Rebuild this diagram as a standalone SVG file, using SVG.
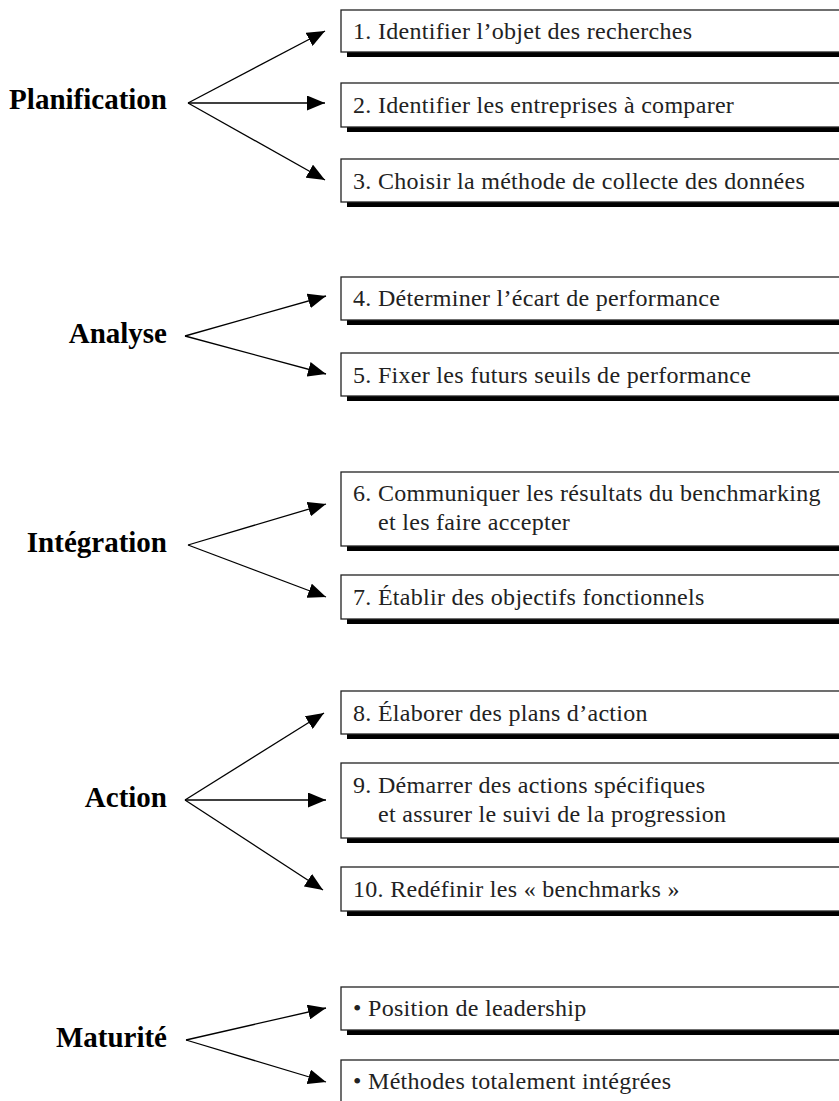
<svg xmlns="http://www.w3.org/2000/svg" width="839" height="1101" viewBox="0 0 839 1101">
<style>
.bg{fill:#fff}
.box{fill:#fff;stroke:#222;stroke-width:1.3}
.sh{fill:#000}
.t{font-family:"Liberation Serif",serif;font-size:24px;letter-spacing:0.3px;fill:#222}
.lbl{font-family:"Liberation Serif",serif;font-size:29px;font-weight:bold;fill:#000;text-anchor:end}
.ar{stroke:#000;stroke-width:1.3;fill:none;marker-end:url(#ah)}
</style>
<defs>
<marker id="ah" viewBox="0 0 18 15" refX="18" refY="7.5" markerWidth="18" markerHeight="15" markerUnits="userSpaceOnUse" orient="auto">
<path d="M0,0 L18,7.5 L0,15 z" fill="#000"/>
</marker>
</defs>
<rect class="bg" width="839" height="1101"/>
<g id="connectors">
<path class="ar" d="M188,103 L325,31"/>
<path class="ar" d="M188,103 L325,103"/>
<path class="ar" d="M188,103 L325,180"/>
<path class="ar" d="M185,336 L326,296"/>
<path class="ar" d="M185,336 L326,374"/>
<path class="ar" d="M188,545 L326,504"/>
<path class="ar" d="M188,545 L326,597"/>
<path class="ar" d="M185,800 L324,713"/>
<path class="ar" d="M185,800 L326,800"/>
<path class="ar" d="M185,800 L323,890"/>
<path class="ar" d="M186,1040 L326,1008"/>
<path class="ar" d="M186,1040 L326,1082"/>
</g>
<g id="label-planification"><text class="lbl" x="167" y="109">Planification</text></g>
<g id="label-analyse"><text class="lbl" x="167" y="343">Analyse</text></g>
<g id="label-integration"><text class="lbl" x="167" y="552">Intégration</text></g>
<g id="label-action"><text class="lbl" x="167" y="807">Action</text></g>
<g id="label-maturite"><text class="lbl" x="167" y="1047">Maturité</text></g>
<g id="box1"><rect class="sh" x="347" y="52" width="500" height="5"/><rect class="box" x="341" y="10" width="520" height="42"/><text class="t" x="353" y="39">1. Identifier l’objet des recherches</text></g>
<g id="box2"><rect class="sh" x="347" y="127" width="500" height="5"/><rect class="box" x="341" y="83" width="520" height="44"/><text class="t" x="353" y="113">2. Identifier les entreprises à comparer</text></g>
<g id="box3"><rect class="sh" x="347" y="202" width="500" height="5"/><rect class="box" x="341" y="159" width="520" height="43"/><text class="t" x="353" y="189">3. Choisir la méthode de collecte des données</text></g>
<g id="box4"><rect class="sh" x="347" y="320" width="500" height="5"/><rect class="box" x="341" y="277" width="520" height="43"/><text class="t" x="353" y="306">4. Déterminer l’écart de performance</text></g>
<g id="box5"><rect class="sh" x="347" y="396" width="500" height="5"/><rect class="box" x="341" y="353" width="520" height="43"/><text class="t" x="353" y="383">5. Fixer les futurs seuils de performance</text></g>
<g id="box6"><rect class="sh" x="347" y="546" width="500" height="5"/><rect class="box" x="341" y="472" width="520" height="74"/><text class="t" x="353" y="501">6. Communiquer les résultats du benchmarking</text><text class="t" x="378" y="530">et les faire accepter</text></g>
<g id="box7"><rect class="sh" x="347" y="619" width="500" height="5"/><rect class="box" x="341" y="575" width="520" height="44"/><text class="t" x="353" y="605">7. Établir des objectifs fonctionnels</text></g>
<g id="box8"><rect class="sh" x="347" y="734" width="500" height="5"/><rect class="box" x="341" y="691" width="520" height="43"/><text class="t" x="353" y="721">8. Élaborer des plans d’action</text></g>
<g id="box9"><rect class="sh" x="347" y="838" width="500" height="5"/><rect class="box" x="341" y="763" width="520" height="75"/><text class="t" x="353" y="793">9. Démarrer des actions spécifiques</text><text class="t" x="378" y="822">et assurer le suivi de la progression</text></g>
<g id="box10"><rect class="sh" x="347" y="911" width="500" height="5"/><rect class="box" x="341" y="867" width="520" height="44"/><text class="t" x="353" y="897">10. Redéfinir les « benchmarks »</text></g>
<g id="box11"><rect class="sh" x="347" y="1030" width="500" height="5"/><rect class="box" x="341" y="987" width="520" height="43"/><text class="t" x="353" y="1016">• Position de leadership</text></g>
<g id="box12"><rect class="sh" x="347" y="1103" width="500" height="5"/><rect class="box" x="341" y="1060" width="520" height="43"/><text class="t" x="353" y="1089">• Méthodes totalement intégrées</text></g>
</svg>
